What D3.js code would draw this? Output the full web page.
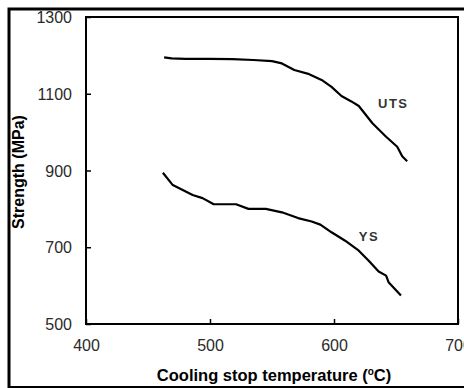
<!DOCTYPE html>
<html>
<head>
<meta charset="utf-8">
<script src="https://cdn.jsdelivr.net/npm/d3@7"></script>
<style>
  body { margin: 0; background: #fff; }
  svg { display: block; font-family: Arial, "Liberation Sans", sans-serif; }
</style>
</head>
<body>
<div id="chart"></div>
<script>
// cooling stop temperature (C) vs strength (MPa)
var utsTemp = [463, 469, 480, 500, 518, 535, 550, 558, 568, 580, 590, 598, 606, 614, 620, 631, 642, 651, 655, 659],
    utsVal  = [1195, 1192, 1191, 1191, 1190, 1188, 1185, 1179, 1162, 1151, 1136, 1118, 1094, 1080, 1068, 1023, 988, 962, 937, 924];

var ysTemp = [462, 470, 478, 486, 494, 503, 521, 531, 545, 558, 571, 582, 589, 598, 609, 620, 628, 636, 642, 644, 654],
    ysVal  = [894, 862, 849, 836, 828, 812, 812, 800, 800, 791, 776, 767, 759, 739, 717, 691, 665, 637, 626, 609, 574];

var xTicks = [400, 500, 600, 700],
    yTicks = [500, 700, 900, 1100, 1300];

// curve labels (data coords)
var labelText = ["UTS", "YS"],
    labelTemp = [635.5, 620],
    labelVal  = [1063, 716];

var width = 464,
    height = 388,
    plotL = 86, plotR = 458, plotT = 17, plotB = 324;

var x = d3.scaleLinear().domain([400, 700]).range([plotL, plotR]);
var y = d3.scaleLinear().domain([500, 1300]).range([plotB, plotT]);

var svg = d3.select("#chart").append("svg")
    .attr("width", width)
    .attr("height", height);

// outer frame (runs off the right edge)
svg.append("path")
    .attr("d", "M470,9H9V387.5H470")
    .attr("fill", "none")
    .attr("stroke", "#000")
    .attr("stroke-width", 3);

// plot box
svg.append("rect")
    .attr("x", plotL).attr("y", plotT)
    .attr("width", plotR - plotL).attr("height", plotB - plotT)
    .attr("fill", "none")
    .attr("stroke", "#000")
    .attr("stroke-width", 2);

var xAxis = svg.append("g")
    .attr("transform", "translate(0," + plotB + ")")
    .call(d3.axisBottom(x).tickValues(xTicks).tickFormat(d3.format("d")).tickSize(-5).tickPadding(13));
var yAxis = svg.append("g")
    .attr("transform", "translate(" + plotL + ",0)")
    .call(d3.axisLeft(y).tickValues(yTicks).tickFormat(d3.format("d")).tickSize(-5).tickPadding(14));

[xAxis, yAxis].forEach(function (g) {
    g.select(".domain").remove();
    g.selectAll("line").attr("stroke", "#000").attr("stroke-width", 1.5);
    g.selectAll("text")
        .attr("fill", "#2a2a2a")
        .style("font-size", "16px")
        .style("font-family", "Arial, 'Liberation Sans', sans-serif");
});
xAxis.selectAll("text").attr("dy", "0.9em");
yAxis.selectAll("text").attr("dy", "0.35em");

var line = d3.line()
    .x(function (d) { return x(d[0]); })
    .y(function (d) { return y(d[1]); });

[[utsTemp, utsVal], [ysTemp, ysVal]].forEach(function (s) {
    svg.append("path")
        .datum(d3.zip(s[0], s[1]))
        .attr("fill", "none")
        .attr("stroke", "#000")
        .attr("stroke-width", 2.2)
        .attr("stroke-linejoin", "round")
        .attr("d", line);
});

svg.selectAll(".lbl")
    .data(labelText)
    .enter().append("text")
    .attr("class", "lbl")
    .attr("x", function (d, i) { return x(labelTemp[i]); })
    .attr("y", function (d, i) { return y(labelVal[i]); })
    .attr("fill", "#333")
    .style("font-size", "13px")
    .style("font-weight", "bold")
    .style("letter-spacing", "1.5px")
    .text(function (d) { return d; });

// axis titles
var xt = svg.append("text")
    .attr("x", (plotL + plotR) / 2 + 2)
    .attr("y", 381)
    .attr("text-anchor", "middle")
    .style("font-size", "16.5px")
    .style("font-weight", "bold");
xt.append("tspan").text("Cooling stop temperature (");
xt.append("tspan").attr("dy", -6).style("font-size", "10px").text("o");
xt.append("tspan").attr("dy", 6).text("C)");

svg.append("text")
    .attr("transform", "translate(24,172) rotate(-90)")
    .attr("text-anchor", "middle")
    .style("font-size", "16px")
    .style("font-weight", "bold")
    .text("Strength (MPa)");
</script>
</body>
</html>
